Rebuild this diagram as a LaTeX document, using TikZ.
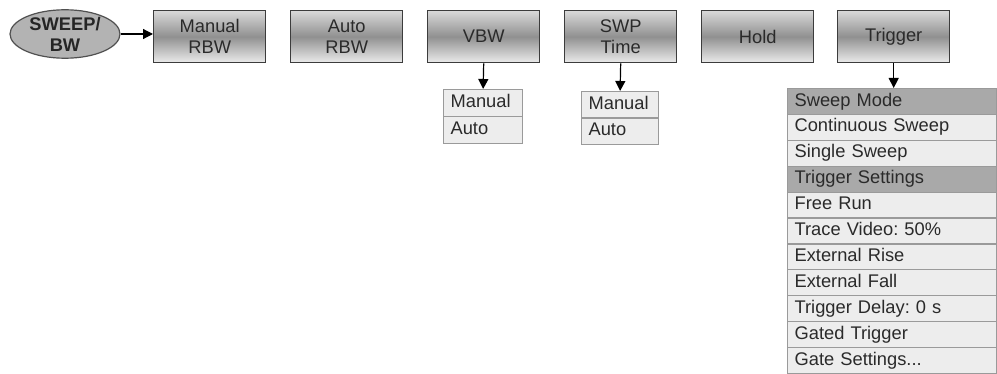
\documentclass[tikz,border=0pt]{standalone}
\usepackage{fontspec}
\setmainfont{Liberation Sans}
\usetikzlibrary{arrows.meta,shapes.geometric}
\definecolor{boxborder}{HTML}{3C3C3C}
\definecolor{gtop}{HTML}{D9D9D9}
\definecolor{gmid}{HTML}{909090}
\definecolor{gbot}{HTML}{EBEBEB}
\definecolor{rowfill}{HTML}{EDEDED}
\definecolor{headfill}{HTML}{A9A9A9}
\definecolor{rowline}{HTML}{9A9A9A}
\definecolor{ellfill}{HTML}{B3B3B3}
\definecolor{txt}{HTML}{2A2A2A}
\frenchspacing
\begin{document}
\begin{tikzpicture}[x=1pt,y=-1pt,
  every node/.style={font=\fontsize{18.3}{21}\selectfont, text=txt},
  topbox/.style={draw=boxborder, line width=1.4pt, anchor=north west,
    minimum width=112pt, minimum height=52pt, inner sep=0pt, align=center,
    top color=gtop, bottom color=gbot, middle color=gmid},
  subrow/.style={draw=rowline, line width=1.2pt, fill=rowfill, anchor=north west,
    inner xsep=7pt, inner ysep=0pt, text height=13pt, text depth=4pt, align=left},
  listrow/.style={subrow, text width=195pt, minimum height=25.9pt},
  headrow/.style={listrow, fill=headfill},
  arr/.style={line width=1.2pt, -{Triangle[length=10pt,width=10pt]}}
]
\useasboundingbox (0,0) rectangle (997,374);

\node[ellipse, draw=boxborder!90, line width=1.2pt, fill=ellfill, minimum width=110pt,
  minimum height=48pt, inner sep=0pt, align=center,
  font=\fontsize{18.3}{21}\selectfont\bfseries, text=black!85] (sweep) at (65,34) {SWEEP/\\BW};

\node[topbox] (mrbw) at (153,10) {Manual\\RBW};
\node[topbox] (arbw) at (290,10) {Auto\\RBW};
\node[topbox] (vbw)  at (427,10) {VBW};
\node[topbox] (swp)  at (564,10) {SWP\\Time};
\node[topbox] (hold) at (701,10) {Hold};
\node[topbox] (trig) at (837,10) {Trigger};

% VBW submenu
\node[subrow, text width=65pt, minimum height=27pt] (vman) at (443,89) {Manual};
\node[subrow, text width=65pt, minimum height=27pt] (vauto) at (443,116) {Auto};
% SWP submenu
\node[subrow, text width=63pt, minimum height=26.5pt] (sman) at (581,91) {Manual};
\node[subrow, text width=63pt, minimum height=26.5pt] (sauto) at (581,117.5) {Auto};

% Trigger list
\node[headrow] (l1)  at (787,88.0)  {Sweep Mode};
\node[listrow] (l2)  at (787,113.9) {Continuous Sweep};
\node[listrow] (l3)  at (787,139.8) {Single Sweep};
\node[headrow] (l4)  at (787,165.7) {Trigger Settings};
\node[listrow] (l5)  at (787,191.6) {Free Run};
\node[listrow] (l6)  at (787,217.5) {Trace Video: 50\%};
\node[listrow] (l7)  at (787,243.4) {External Rise};
\node[listrow] (l8)  at (787,269.3) {External Fall};
\node[listrow] (l9)  at (787,295.2) {Trigger Delay: 0 s};
\node[listrow] (l10) at (787,321.1) {Gated Trigger};
\node[listrow] (l11) at (787,347.0) {Gate Settings...};

\draw[arr] (sweep.east) -- (sweep.east -| mrbw.west);
\draw[arr] (vbw.south) -- (vman.north);
\draw[arr] (swp.south) -- (sman.north);
\draw[arr] (trig.south) -- (trig.south |- l1.north);
\end{tikzpicture}
\end{document}
